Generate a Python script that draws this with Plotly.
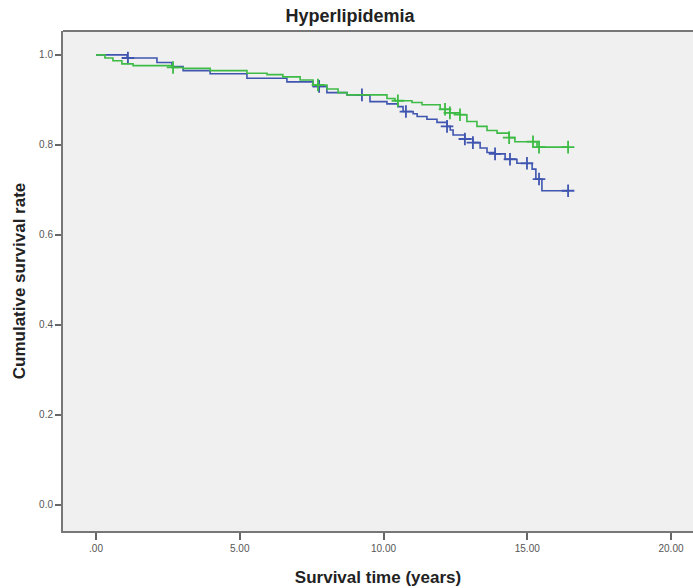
import numpy as np
import plotly.graph_objects as go

# Blue group: step times (years) and survival after each step
blue_t = [0, 1.08, 2.12, 2.64, 3.03, 3.97, 5.25, 6.64, 7.55, 8.03, 8.73, 9.53, 10.12, 10.50,
          10.68, 11.03, 11.17, 11.51, 11.86, 12.21, 12.32, 12.42, 12.83, 13.11, 13.36, 13.60,
          13.88, 14.23, 14.64, 15.17, 15.30, 15.51, 16.42]
blue_s = [1.0, 0.993, 0.983, 0.974, 0.965, 0.958, 0.948, 0.940, 0.930, 0.916, 0.911, 0.896,
          0.891, 0.885, 0.874, 0.869, 0.863, 0.857, 0.850, 0.841, 0.833, 0.822, 0.813, 0.805,
          0.793, 0.783, 0.780, 0.768, 0.759, 0.746, 0.724, 0.698, 0.698]
blue_cens = [1.11, 7.76, 9.25, 10.78, 12.21, 12.83, 13.11, 13.88, 14.40, 14.99, 15.41, 16.42]

# Green group
green_t = [0, 0.31, 0.59, 0.90, 1.29, 2.64, 3.03, 3.97, 5.25, 5.95, 6.50, 7.10, 7.55, 8.03,
           8.42, 8.73, 10.12, 10.40, 10.99, 11.34, 11.97, 12.31, 12.66, 12.90, 13.25, 13.60,
           13.95, 14.37, 14.57, 15.34, 16.42]
green_s = [1.0, 0.993, 0.987, 0.980, 0.976, 0.972, 0.970, 0.965, 0.959, 0.956, 0.951, 0.944,
           0.933, 0.924, 0.916, 0.911, 0.903, 0.898, 0.894, 0.889, 0.879, 0.871, 0.867, 0.852,
           0.841, 0.832, 0.826, 0.816, 0.807, 0.795, 0.795]
green_cens = [2.68, 7.72, 10.50, 12.14, 12.31, 12.66, 14.37, 15.20, 15.41, 16.42]

x_ticks = [0, 5, 10, 15, 20]
x_labels = [".00", "5.00", "10.00", "15.00", "20.00"]
y_ticks = [0, 0.2, 0.4, 0.6, 0.8, 1.0]
y_labels = ["0.0", "0.2", "0.4", "0.6", "0.8", "1.0"]

BLUE = "#3f55b0"
GREEN = "#3dbb45"


def surv_at(t_arr, s_arr, times):
    t_arr = np.asarray(t_arr)
    s_arr = np.asarray(s_arr)
    idx = np.searchsorted(t_arr, np.asarray(times), side="right") - 1
    return s_arr[np.clip(idx, 0, len(s_arr) - 1)]


fig = go.Figure()
for t, s, c, col in [(blue_t, blue_s, blue_cens, BLUE), (green_t, green_s, green_cens, GREEN)]:
    fig.add_trace(go.Scatter(x=t, y=s, mode="lines", line=dict(color=col, width=1.6, shape="hv"),
                             showlegend=False, hoverinfo="skip"))
    fig.add_trace(go.Scatter(x=c, y=surv_at(t, s, c), mode="markers",
                             marker=dict(symbol="cross-thin", size=9, line=dict(color=col, width=1.8)),
                             showlegend=False, hoverinfo="skip"))

FAM = "Liberation Sans, Arial, sans-serif"
axis_font = dict(family=FAM, size=10, color="#555555")
title_font = dict(family=FAM, size=17, color="#222222")

fig.update_layout(
    width=693, height=588,
    margin=dict(l=63, r=0, t=31, b=57),
    paper_bgcolor="white",
    plot_bgcolor="#f0f0f0",
    title=dict(text="<b>Hyperlipidemia</b>", x=0.505, xref="container", xanchor="center",
               y=1 - 16 / 588, yref="container", yanchor="middle",
               font=dict(family=FAM, size=18, color="#222222")),
    xaxis=dict(range=[-1.148, 20.765], tickvals=x_ticks, ticktext=x_labels, showgrid=False,
               zeroline=False, showline=True, linecolor="#777777", linewidth=2,
               ticks="outside", ticklen=7, tickwidth=2, tickcolor="#666666", tickfont=axis_font,
               title=dict(text="<b>Survival time (years)</b>", font=title_font, standoff=18)),
    yaxis=dict(range=[-0.058, 1.053], tickvals=y_ticks, ticktext=y_labels, showgrid=False,
               zeroline=False, showline=True, linecolor="#777777", linewidth=2,
               ticks="outside", ticklen=6, tickwidth=2, tickcolor="#666666", tickfont=axis_font,
               title=dict(text="<b>Cumulative survival rate</b>", font=title_font, standoff=9)),
    shapes=[dict(type="line", xref="paper", yref="paper", x0=0, x1=1, y0=1, y1=1,
                 line=dict(color="#777777", width=2))],
)

fig.write_html("out.html")
